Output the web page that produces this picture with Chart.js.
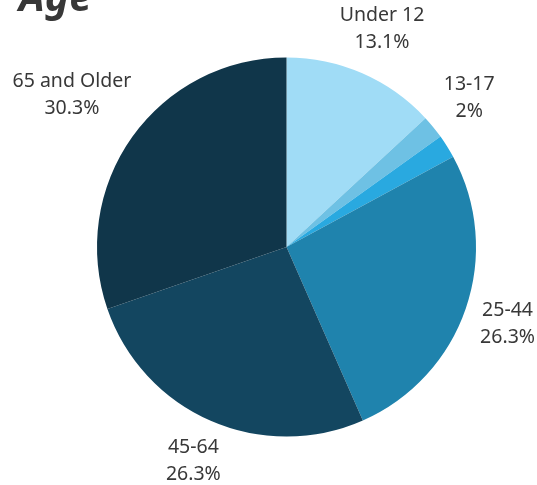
<!DOCTYPE html>
<html>
<head>
<meta charset="utf-8">
<script src="https://cdn.jsdelivr.net/npm/chart.js@4"></script>
<style>
  html, body { margin: 0; padding: 0; background: #fff; overflow: hidden; }
  #wrap { position: relative; width: 537px; height: 485px; }
</style>
</head>
<body>
<div id="wrap"><canvas id="agechart"></canvas></div>
<script>
var categories = ['Under 12', '13-17', '18-24', '25-44', '45-64', '65 and Older'];
var values = [13.1, 2, 2, 26.3, 26.3, 30.3];
var valueLabels = ['13.1%', '2%', '2%', '26.3%', '26.3%', '30.3%'];
var colors = ['#a0dcf6', '#6ec1e4', '#29a9e0', '#1f83ad', '#134660', '#10364a'];

var FONT = '"Noto Sans", "Open Sans", sans-serif';

// draws the title and the outside labels, skipping ones that would overlap
var outsideLabels = {
    id: 'outsideLabels',
    afterDraw: function (chart) {
        var ctx = chart.ctx;
        ctx.save();
        ctx.fillStyle = '#383838';
        ctx.font = 'italic bold 41px ' + FONT;
        ctx.textAlign = 'left';
        ctx.textBaseline = 'alphabetic';
        ctx.fillText('Age', 19, 11);

        ctx.font = '19.5px ' + FONT;
        ctx.textAlign = 'center';
        ctx.textBaseline = 'middle';
        var placed = [];
        var arcs = chart.getDatasetMeta(0).data;
        arcs.forEach(function (arc, i) {
            var mid = (arc.startAngle + arc.endAngle) / 2;
            var cx = Math.cos(mid), sy = Math.sin(mid);
            var w = Math.max(ctx.measureText(categories[i]).width, ctx.measureText(valueLabels[i]).width);
            var hw = w / 2, hh = 20;
            var d = arc.outerRadius + 14 + Math.abs(cx) * hw + Math.abs(sy) * hh;
            var x = arc.x + cx * d, y = arc.y + sy * d;
            x = Math.min(Math.max(x, hw + 2), chart.width - hw - 2);
            var box = { l: x - hw, r: x + hw, t: y - hh, b: y + hh };
            var hit = placed.some(function (p) {
                return !(box.r < p.l || box.l > p.r || box.b < p.t || box.t > p.b);
            });
            if (hit) return;
            placed.push(box);
            ctx.fillText(categories[i], x, y - 13);
            ctx.fillText(valueLabels[i], x, y + 14);
        });
        ctx.restore();
    }
};

var ctx = document.getElementById('agechart').getContext('2d');
var myChart = new Chart(ctx, {
    type: 'pie',
    data: {
        labels: categories,
        datasets: [{
            data: values,
            backgroundColor: colors,
            borderWidth: 0
        }]
    },
    options: {
        responsive: true,
        maintainAspectRatio: false,
        animation: false,
        layout: {
            padding: { left: 97, right: 61, top: 57, bottom: 48 }
        },
        plugins: {
            legend: { display: false },
            tooltip: { enabled: false }
        }
    },
    plugins: [outsideLabels]
});
</script>
</body>
</html>
